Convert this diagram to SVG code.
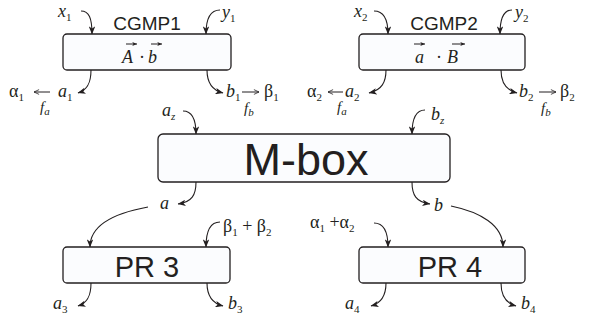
<svg xmlns="http://www.w3.org/2000/svg" width="592" height="320" viewBox="0 0 592 320">
<defs>
<style>
.box{fill:#fbfcfe;stroke:#231f20;stroke-width:1.3}
.c{fill:none;stroke:#231f20;stroke-width:1.1}
.v,.g,.f{font-family:'Liberation Serif','Times New Roman',Times,'Nimbus Roman','FreeSerif','Noto Serif','DejaVu Serif',serif;fill:#231f20}
.v{font-style:italic;font-size:18px}
.g{font-size:18px}
.f{font-style:italic;font-size:15px}
.s{font-size:11px;font-style:normal}
.si{font-size:11px;font-style:italic}
.h{font-family:'Liberation Sans',Arial,sans-serif;fill:#231f20;text-anchor:middle}
.vec{fill:none;stroke:#231f20;stroke-width:1}
</style>
<marker id="ah" viewBox="0 0 10 8" refX="9.5" refY="4" markerWidth="8" markerHeight="6.4" orient="auto" markerUnits="userSpaceOnUse">
<path d="M0,0 L10,4 L0,8 L2.5,4 z" fill="#231f20"/>
</marker>
<marker id="vh" viewBox="0 0 10 8" refX="9.5" refY="4" markerWidth="5" markerHeight="4" orient="auto" markerUnits="userSpaceOnUse">
<path d="M0,0 L10,4 L0,8 L2.5,4 z" fill="#231f20"/>
</marker>
<marker id="fh" viewBox="0 0 10 10" refX="9.5" refY="5" markerWidth="6" markerHeight="6" orient="auto" markerUnits="userSpaceOnUse">
<path d="M1,1 L9.5,5 L1,9" fill="none" stroke="#231f20" stroke-width="1.3"/>
</marker>
</defs>
<rect width="592" height="320" fill="#ffffff"/>

<g id="cgmp1">
<rect class="box" x="63" y="34" width="168" height="36" rx="4"/>
<text class="h" x="147" y="30" font-size="19">CGMP1</text>
<text class="v" x="122" y="63" font-size="23">A</text>
<text class="g" x="139" y="63" font-size="23">·</text>
<text class="v" x="148" y="63" font-size="23">b</text>
<path class="vec" d="M126,44 H137" marker-end="url(#vh)"/>
<path class="vec" d="M151,44 H162" marker-end="url(#vh)"/>
</g>

<g id="cgmp2">
<rect class="box" x="359" y="34" width="166" height="36" rx="4"/>
<text class="h" x="444" y="30" font-size="19">CGMP2</text>
<text class="v" x="415" y="63" font-size="23">a</text>
<text class="g" x="436" y="63" font-size="23">·</text>
<text class="v" x="447" y="63" font-size="23">B</text>
<path class="vec" d="M414,44 H425" marker-end="url(#vh)"/>
<path class="vec" d="M452,44 H465" marker-end="url(#vh)"/>
</g>

<g id="mbox">
<rect class="box" x="158" y="134" width="292" height="48" rx="5"/>
<text class="h" x="306" y="175" font-size="45">M-box</text>
</g>

<g id="pr3">
<rect class="box" x="63" y="247" width="167" height="36" rx="4"/>
<text class="h" x="147" y="277" font-size="29">PR 3</text>
</g>

<g id="pr4">
<rect class="box" x="359" y="247" width="166" height="36" rx="4"/>
<text class="h" x="450" y="277" font-size="29">PR 4</text>
</g>

<g id="labels">
<text class="v" x="58" y="17">x<tspan class="s" dy="4">1</tspan></text>
<text class="v" x="222" y="18">y<tspan class="s" dy="4">1</tspan></text>
<text class="v" x="354" y="17">x<tspan class="s" dy="4">2</tspan></text>
<text class="v" x="515" y="18">y<tspan class="s" dy="4">2</tspan></text>

<text class="g" x="9" y="97">α<tspan class="s" dy="4">1</tspan></text>
<path class="vec" d="M50,92 H34" marker-end="url(#fh)"/>
<text class="v" x="58" y="97">a<tspan class="s" dy="4">1</tspan></text>
<text class="f" x="40" y="112">f<tspan class="si" dy="3">a</tspan></text>

<text class="v" x="226" y="97">b<tspan class="s" dy="4">1</tspan></text>
<path class="vec" d="M242,92 H259" marker-end="url(#fh)"/>
<text class="g" x="264" y="97">β<tspan class="s" dy="4">1</tspan></text>
<text class="f" x="244" y="113">f<tspan class="si" dy="3">b</tspan></text>

<text class="g" x="307" y="97">α<tspan class="s" dy="4">2</tspan></text>
<path class="vec" d="M343,92 H328" marker-end="url(#fh)"/>
<text class="v" x="345" y="97">a<tspan class="s" dy="4">2</tspan></text>
<text class="f" x="337" y="112">f<tspan class="si" dy="3">a</tspan></text>

<text class="v" x="519" y="97">b<tspan class="s" dy="4">2</tspan></text>
<path class="vec" d="M539,92 H556" marker-end="url(#fh)"/>
<text class="g" x="560" y="97">β<tspan class="s" dy="4">2</tspan></text>
<text class="f" x="541" y="113">f<tspan class="si" dy="3">b</tspan></text>

<text class="v" x="162" y="116">a<tspan class="si" dy="4">z</tspan></text>
<text class="v" x="431" y="120">b<tspan class="si" dy="4">z</tspan></text>

<text class="v" x="160" y="209">a</text>
<text class="v" x="434" y="211">b</text>

<text class="g" x="223" y="232">β<tspan class="s" dy="4">1</tspan><tspan dy="-4"> + β</tspan><tspan class="s" dy="4">2</tspan></text>
<text class="g" x="310" y="228">α<tspan class="s" dy="4">1</tspan><tspan dy="-4"> +α</tspan><tspan class="s" dy="4">2</tspan></text>

<text class="v" x="53" y="309">a<tspan class="s" dy="4">3</tspan></text>
<text class="v" x="228" y="309">b<tspan class="s" dy="4">3</tspan></text>
<text class="v" x="345" y="309">a<tspan class="s" dy="4">4</tspan></text>
<text class="v" x="521" y="309">b<tspan class="s" dy="4">4</tspan></text>
</g>

<g id="connectors">
<path class="c" d="M81,11 C89,11 92,18 92,34" marker-end="url(#ah)"/>
<path class="c" d="M220,10 C211,10 206,17 206,34" marker-end="url(#ah)"/>
<path class="c" d="M91,70 C91,82 88,90 78,93" marker-end="url(#ah)"/>
<path class="c" d="M207,70 C207,82 211,90 223,93" marker-end="url(#ah)"/>
<path class="c" d="M374,11 C383,11 388,18 388,34" marker-end="url(#ah)"/>
<path class="c" d="M512,10 C504,10 500,17 500,34" marker-end="url(#ah)"/>
<path class="c" d="M386,70 C386,82 382,90 369,93" marker-end="url(#ah)"/>
<path class="c" d="M501,70 C501,82 505,90 517,93" marker-end="url(#ah)"/>
<path class="c" d="M183,111 C191,111 196,118 196,134" marker-end="url(#ah)"/>
<path class="c" d="M425,110 C417,110 412,117 412,134" marker-end="url(#ah)"/>
<path class="c" d="M196,182 C196,195 192,202 178,204" marker-end="url(#ah)"/>
<path class="c" d="M412,182 C412,195 416,202 430,204" marker-end="url(#ah)"/>
<path class="c" d="M148,207 C115,213 90,225 90,247" marker-end="url(#ah)"/>
<path class="c" d="M220,222 C211,222 206,229 206,247" marker-end="url(#ah)"/>
<path class="c" d="M374,223 C383,223 388,230 388,247" marker-end="url(#ah)"/>
<path class="c" d="M451,206 C480,212 503,225 503,247" marker-end="url(#ah)"/>
<path class="c" d="M91,283 C91,295 88,303 78,306" marker-end="url(#ah)"/>
<path class="c" d="M207,283 C207,295 211,303 223,306" marker-end="url(#ah)"/>
<path class="c" d="M386,283 C386,295 382,303 371,306" marker-end="url(#ah)"/>
<path class="c" d="M501,283 C501,295 505,303 516,306" marker-end="url(#ah)"/>
</g>
</svg>
